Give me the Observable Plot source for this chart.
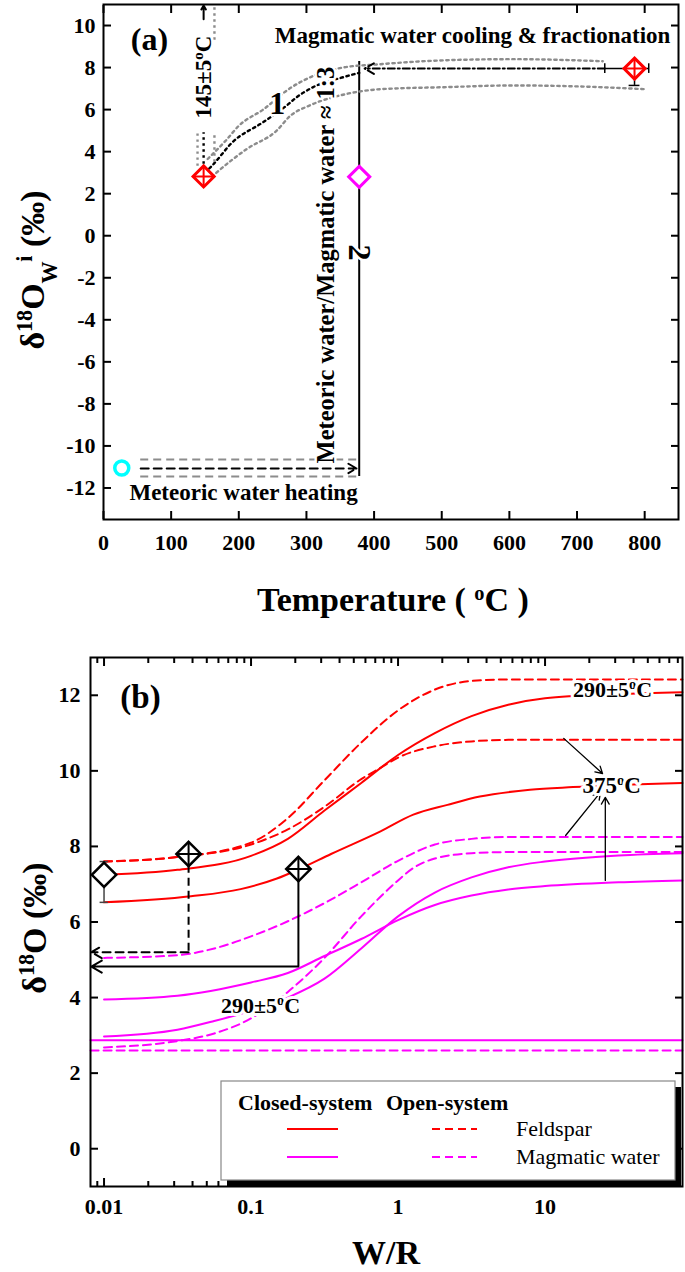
<!DOCTYPE html>
<html><head><meta charset="utf-8">
<script src="https://cdn.jsdelivr.net/npm/d3@7"></script>
<script src="https://cdn.jsdelivr.net/npm/@observablehq/plot@0.6"></script>
<style>
html,body{margin:0;padding:0;background:#fff;}
#fig{width:685px;height:1272px;overflow:hidden;}
#fig svg{display:block;}
</style></head>
<body><div id="fig"></div>
<script>
const FONT = "'Liberation Serif','Times New Roman',Times,serif";
const RED = "#ff0000", MAG = "#ff00ff", CYAN = "#00ffff", GRAY = "#8c8c8c";

// ================= Panel (a) data =================
const tempTicks = [0,100,200,300,400,500,600,700,800];
const deltaWTicks = [-12,-10,-8,-6,-4,-2,0,2,4,6,8,10];
const meteoricWater = [{T:27, d:-11.05}];
const mixedWater = [{T:378, d:2.8}];
const magmaticPoints = [{T:148, d:2.82}, {T:785, d:7.95}];
const magErrX = [{T1:741, T2:806, d:7.95}];
const magErrY = [{T:785, d1:7.15, d2:7.95}];
const magCapsX = [{T:741, d1:7.72, d2:8.18}, {T:806, d1:7.72, d2:8.18}];
const magCapsY = [{T1:777, T2:793, d:7.15}];
const upperGray = [[154,3.65],[180,4.5],[201,5.26],[236,6.0],[275,7.0],[310,7.6],[354,8.0],[409,8.16],[508,8.35],[606,8.4],[738,8.3]];
const middleBlack = [[150,3.0],[161,3.35],[191,4.46],[236,5.4],[271,6.2],[286,6.6],[310,7.07],[354,7.54],[378,7.75]];
const lowerGray = [[160,2.8],[167,3.0],[212,4.13],[256,5.0],[276,5.7],[305,6.2],[360,6.75],[409,6.97],[508,7.07],[606,7.15],[705,7.1],[801,6.97]];
const band145 = [
  {T:139, d1:3.3, d2:4.9, c:GRAY},
  {T:148, d1:3.4, d2:4.9, c:"black"},
  {T:164, d1:3.5, d2:4.9, c:GRAY},
  {T:164, d1:9.3, d2:10.9, c:GRAY}
];
const band145Arrow = [{T:148, d1:10.3, d2:10.95}];
const heatGray = [{T1:55, T2:378, d:-10.65}, {T1:55, T2:378, d:-11.45}];
const heatBlack = [{T1:55, T2:374, d:-11.07}];
const mixLine = [{T:378, d1:-11.45, d2:8.29}];
const coolLine = [{T1:741, T2:386, d:7.95}];
const labelsA = [
  {T:68, d:9.3, s:"(a)", size:32, rot:0},
  {T:257, d:6.29, s:"1", size:32, rot:0},
  {T:378, d:-0.8, s:"2", size:32, rot:90},
  {T:329, d:-1.4, s:"Meteoric water/Magmatic water \u2248 1:3", size:24.5, rot:-90},
  {T:148, d:7.55, s:"145\u00b15\u00b0C", size:23, rot:-90},
  {T:207, d:-12.2, s:"Meteoric water heating", size:23, rot:0}
];
const labelsAEnd = [{T:838, d:9.53, s:"Magmatic water cooling & fractionation", size:23}];

// ================= Panel (b) data =================
const wrTicks = [0.01, 0.1, 1, 10];
const wrMinor = [0.009,0.02,0.03,0.04,0.05,0.06,0.07,0.08,0.09,0.2,0.3,0.4,0.5,0.6,0.7,0.8,0.9,2,3,4,5,6,7,8,9,20,30,40,50,60,70,80];
const d18Ticks = [0,2,4,6,8,10,12];
const feldOpen290 = [[0.01,7.6],[0.0316,7.72],[0.1,8.1],[0.178,8.75],[0.316,9.75],[0.562,10.75],[1,11.6],[1.78,12.15],[3.16,12.38],[5.62,12.42],[86,12.42]];
const feldClosed290 = [[0.01,7.25],[0.0316,7.38],[0.1,7.75],[0.178,8.2],[0.316,8.95],[0.562,9.68],[1,10.42],[1.78,11.0],[3.16,11.45],[5.62,11.75],[10,11.92],[31.6,12.03],[86,12.08]];
const feldOpen375 = [[0.01,7.6],[0.0316,7.72],[0.1,8.05],[0.178,8.45],[0.316,9.05],[0.562,9.78],[0.76,10.08],[1,10.35],[1.78,10.65],[3.16,10.78],[5.62,10.82],[86,10.82]];
const feldClosed375 = [[0.01,6.52],[0.039,6.68],[0.085,6.87],[0.15,7.15],[0.21,7.39],[0.35,7.8],[0.76,8.4],[1.27,8.84],[2.17,9.1],[3.6,9.32],[7.9,9.5],[15.5,9.57],[86,9.68]];
const magOpenA = [[0.01,5.05],[0.0316,5.12],[0.0562,5.3],[0.1,5.62],[0.178,6.02],[0.316,6.5],[0.562,7.05],[1,7.62],[1.78,8.05],[3.16,8.2],[5.62,8.25],[86,8.25]];
const magOpenB = [[0.01,2.68],[0.0316,2.85],[0.0562,3.05],[0.1,3.45],[0.178,4.15],[0.316,5.05],[0.562,6.15],[1,7.1],[1.26,7.42],[1.78,7.68],[3.16,7.82],[5.62,7.85],[86,7.85]];
const magClosedA = [[0.01,2.97],[0.0316,3.15],[0.0562,3.38],[0.1,3.65],[0.178,4.0],[0.316,4.5],[0.562,5.3],[1,6.15],[1.78,6.78],[3.16,7.18],[5.62,7.45],[10,7.6],[31.6,7.76],[86,7.82]];
const magClosedB = [[0.01,3.95],[0.0316,4.05],[0.1,4.4],[0.178,4.65],[0.316,5.1],[0.562,5.55],[1,6.05],[1.78,6.45],[3.16,6.7],[5.62,6.86],[10,6.95],[31.6,7.05],[86,7.1]];
const magFlatSolid = [[0.0081,2.87],[86,2.87]];
const magFlatDash = [[0.0081,2.6],[86,2.6]];
const samples = [{wr:0.01, d:7.25, cross:false},{wr:0.0376, d:7.8, cross:true},{wr:0.21, d:7.4, cross:true}];
const sampleErr = [{wr:0.01, d1:6.52, d2:7.6}];
const sampleCaps = [{w1:0.0094, w2:0.0107, d:6.52},{w1:0.0094, w2:0.0107, d:7.6}];
const projDashV = [{wr:0.0376, d1:7.5, d2:5.2}];
const projDashH = [{w1:0.0376, w2:0.0082, d:5.2}];
const projSolidV = [{wr:0.21, d1:7.1, d2:4.82}];
const projSolidH = [{w1:0.21, w2:0.0082, d:4.82}];
const arrows375 = [
  {w1:13.4, d1:10.86, w2:24.6, d2:9.93},
  {w1:13.8, d1:8.29, w2:23.8, d2:9.43},
  {w1:25.7, d1:7.1, w2:25.7, d2:9.3}
];
const labelsB = [
  {wr:0.0177, d:11.94, s:"(b)", size:33},
  {wr:28.8, d:12.15, s:"290\u00b15\u00b0C", size:22},
  {wr:28.4, d:9.61, s:"375\u00b0C", size:23},
  {wr:0.116, d:3.79, s:"290\u00b15\u00b0C", size:22}
];
const legendRows = [{label:"Feldspar", color:RED}, {label:"Magmatic water", color:MAG}];

// ================= helpers =================
const X = d => d[0], Y = d => d[1];
function supify(svg) {
  d3.select(svg).selectAll("text").each(function() {
    const t = this.textContent;
    if (!t.includes("\u00b0")) return;
    const [a, b] = t.split("\u00b0");
    const s = d3.select(this);
    s.text(null);
    s.append("tspan").text(a);
    s.append("tspan").attr("baseline-shift","super").attr("font-size","65%").text("o");
    s.append("tspan").text(b);
  });
}
const tickTxt = {fontSize:22, fontWeight:"bold", label:null, tickSize:0};

// ================= Panel (a) =================
const pa = Plot.plot({
  width:685, height:640,
  marginTop:4, marginBottom:121, marginLeft:103, marginRight:7,
  style:{fontFamily:FONT, background:"white", color:"black"},
  x:{domain:[0,850]},
  y:{domain:[-13.5,11]},
  marks:[
    Plot.axisX(tempTicks, {...tickTxt, anchor:"bottom", tickPadding:15, tickFormat:d=>String(d)}),
    Plot.axisY(deltaWTicks, {...tickTxt, anchor:"left", tickPadding:8, tickFormat:d=>String(d)}),
    Plot.axisX(tempTicks, {anchor:"bottom", tickSize:-8, fill:"none", strokeWidth:2, label:null}),
    Plot.axisX(tempTicks, {anchor:"top", tickSize:-8, fill:"none", strokeWidth:2, label:null}),
    Plot.axisY(deltaWTicks, {anchor:"left", tickSize:-8, fill:"none", strokeWidth:2, label:null}),
    Plot.axisY(deltaWTicks, {anchor:"right", tickSize:-8, fill:"none", strokeWidth:2, label:null}),
    Plot.ruleY(heatGray, {y:"d", x1:"T1", x2:"T2", stroke:GRAY, strokeWidth:2, strokeDasharray:"8 5"}),
    Plot.arrow(heatBlack, {x1:"T1", x2:"T2", y1:"d", y2:"d", stroke:"black", strokeWidth:2, strokeDasharray:"8 5", headLength:7}),
    Plot.ruleX(mixLine, {x:"T", y1:"d1", y2:"d2", stroke:"black", strokeWidth:2}),
    Plot.line(upperGray, {x:X, y:Y, stroke:GRAY, strokeWidth:2.4, strokeDasharray:"2.4 3.6", curve:"monotone-x"}),
    Plot.line(lowerGray, {x:X, y:Y, stroke:GRAY, strokeWidth:2.4, strokeDasharray:"2.4 3.6", curve:"monotone-x"}),
    Plot.line(middleBlack, {x:X, y:Y, stroke:"black", strokeWidth:2.4, strokeDasharray:"2.4 3.6", curve:"monotone-x"}),
    Plot.arrow(coolLine, {x1:"T1", x2:"T2", y1:"d", y2:"d", stroke:"black", strokeWidth:2, strokeDasharray:"7 3 2 3", headLength:8}),
    Plot.ruleX(band145, {x:"T", y1:"d1", y2:"d2", stroke:"c", strokeWidth:2.4, strokeDasharray:"2.4 3.6"}),
    Plot.arrow(band145Arrow, {x1:"T", x2:"T", y1:"d1", y2:"d2", stroke:"black", strokeWidth:2, headLength:7}),
    Plot.ruleY(magErrX, {y:"d", x1:"T1", x2:"T2", stroke:"black", strokeWidth:1.5}),
    Plot.ruleX(magErrY, {x:"T", y1:"d1", y2:"d2", stroke:"black", strokeWidth:1.5}),
    Plot.ruleX(magCapsX, {x:"T", y1:"d1", y2:"d2", stroke:"black", strokeWidth:1.5}),
    Plot.ruleY(magCapsY, {y:"d", x1:"T1", x2:"T2", stroke:"black", strokeWidth:1.5}),
    Plot.dot(meteoricWater, {x:"T", y:"d", r:7, stroke:CYAN, strokeWidth:3.5, fill:"white"}),
    Plot.dot(mixedWater, {x:"T", y:"d", symbol:"diamond2", r:9.5, stroke:MAG, strokeWidth:3, fill:"white"}),
    Plot.dot(magmaticPoints, {x:"T", y:"d", symbol:"diamond2", r:9.5, stroke:RED, strokeWidth:3, fill:"white"}),
    Plot.dot(magmaticPoints, {x:"T", y:"d", symbol:"plus", r:6.5, stroke:RED, strokeWidth:2}),
    Plot.text(labelsA, {x:"T", y:"d", text:"s", fontSize:"size", rotate:"rot", fontWeight:"bold", fill:"black", stroke:"white", strokeWidth:5}),
    Plot.text(labelsAEnd, {x:"T", y:"d", text:"s", fontSize:"size", textAnchor:"end", fontWeight:"bold", fill:"black"}),
    Plot.frame({stroke:"black", strokeWidth:2})
  ]
});

// ================= Panel (b) =================
const pb = Plot.plot({
  width:685, height:632,
  marginTop:17, marginBottom:86, marginLeft:90, marginRight:3,
  style:{fontFamily:FONT, background:"white", color:"black"},
  x:{type:"log", domain:[0.00809, 86.1]},
  y:{domain:[-1,13]},
  marks:[
    Plot.axisX(wrTicks, {...tickTxt, anchor:"bottom", tickPadding:12, tickFormat:d=>String(d)}),
    Plot.axisY(d18Ticks, {...tickTxt, anchor:"left", tickPadding:10, tickFormat:d=>String(d)}),
    Plot.axisX(wrTicks, {anchor:"bottom", tickSize:-8, fill:"none", strokeWidth:2, label:null}),
    Plot.axisX(wrTicks, {anchor:"top", tickSize:-8, fill:"none", strokeWidth:2, label:null}),
    Plot.axisX(wrMinor, {anchor:"bottom", tickSize:-5, fill:"none", strokeWidth:2, label:null}),
    Plot.axisX(wrMinor, {anchor:"top", tickSize:-5, fill:"none", strokeWidth:2, label:null}),
    Plot.axisY(d18Ticks, {anchor:"left", tickSize:-8, fill:"none", strokeWidth:2, label:null}),
    Plot.axisY(d18Ticks, {anchor:"right", tickSize:-8, fill:"none", strokeWidth:2, label:null}),
    Plot.line(magFlatSolid, {x:X, y:Y, stroke:MAG, strokeWidth:2}),
    Plot.line(magFlatDash, {x:X, y:Y, stroke:MAG, strokeWidth:2, strokeDasharray:"8 5"}),
    Plot.line(magOpenA, {x:X, y:Y, stroke:MAG, strokeWidth:2, strokeDasharray:"8 5", curve:"monotone-x"}),
    Plot.line(magOpenB, {x:X, y:Y, stroke:MAG, strokeWidth:2, strokeDasharray:"8 5", curve:"monotone-x"}),
    Plot.line(magClosedA, {x:X, y:Y, stroke:MAG, strokeWidth:2, curve:"monotone-x"}),
    Plot.line(magClosedB, {x:X, y:Y, stroke:MAG, strokeWidth:2, curve:"monotone-x"}),
    Plot.line(feldOpen290, {x:X, y:Y, stroke:RED, strokeWidth:2, strokeDasharray:"8 5", curve:"monotone-x"}),
    Plot.line(feldOpen375, {x:X, y:Y, stroke:RED, strokeWidth:2, strokeDasharray:"8 5", curve:"monotone-x"}),
    Plot.line(feldClosed290, {x:X, y:Y, stroke:RED, strokeWidth:2, curve:"monotone-x"}),
    Plot.line(feldClosed375, {x:X, y:Y, stroke:RED, strokeWidth:2, curve:"monotone-x"}),
    Plot.ruleX(projDashV, {x:"wr", y1:"d1", y2:"d2", stroke:"black", strokeWidth:2, strokeDasharray:"8 5"}),
    Plot.arrow(projDashH, {x1:"w1", x2:"w2", y1:"d", y2:"d", stroke:"black", strokeWidth:2, strokeDasharray:"8 5", headLength:9}),
    Plot.ruleX(projSolidV, {x:"wr", y1:"d1", y2:"d2", stroke:"black", strokeWidth:2}),
    Plot.arrow(projSolidH, {x1:"w1", x2:"w2", y1:"d", y2:"d", stroke:"black", strokeWidth:2, headLength:9}),
    Plot.arrow(arrows375, {x1:"w1", x2:"w2", y1:"d1", y2:"d2", stroke:"black", strokeWidth:1.3, headLength:9}),
    Plot.ruleX(sampleErr, {x:"wr", y1:"d1", y2:"d2", stroke:"#444", strokeWidth:1.5}),
    Plot.ruleY(sampleCaps, {y:"d", x1:"w1", x2:"w2", stroke:"#444", strokeWidth:1.5}),
    Plot.dot(samples, {x:"wr", y:"d", symbol:"diamond2", r:11, stroke:"black", strokeWidth:2.5, fill:"white"}),
    Plot.dot(samples.filter(d => d.cross), {x:"wr", y:"d", symbol:"plus", r:8, stroke:"black", strokeWidth:2}),
    Plot.text(labelsB, {x:"wr", y:"d", text:"s", fontSize:"size", fontWeight:"bold", fill:"black", stroke:"white", strokeWidth:6}),
    Plot.frame({stroke:"black", strokeWidth:2})
  ]
});

supify(pa); supify(pb);

// ----- titles panel (a)
const sa = d3.select(pa);
sa.append("text").attr("x", 393).attr("y", 611).attr("text-anchor","middle")
  .attr("font-family",FONT).attr("font-weight","bold").attr("font-size",34)
  .call(t => {
    t.append("tspan").text("Temperature ( ");
    t.append("tspan").attr("baseline-shift","super").attr("font-size","60%").text("o");
    t.append("tspan").text("C )");
  });
sa.append("text").attr("transform","translate(44,270) rotate(-90)").attr("text-anchor","middle")
  .attr("font-family",FONT).attr("font-weight","bold").attr("font-size",34)
  .call(t => {
    t.append("tspan").text("\u03b4");
    t.append("tspan").attr("baseline-shift","super").attr("font-size","65%").text("18");
    t.append("tspan").text("O");
    t.append("tspan").attr("baseline-shift","sub").attr("font-size","65%").text("W");
    t.append("tspan").attr("baseline-shift","super").attr("font-size","65%").text("i");
    t.append("tspan").text(" (\u2030)");
  });

// ----- titles and legend panel (b)
const sb = d3.select(pb);
sb.append("text").attr("x", 386).attr("y", 624).attr("text-anchor","middle")
  .attr("font-family",FONT).attr("font-weight","bold").attr("font-size",34).text("W/R");
sb.append("text").attr("transform","translate(46,288) rotate(-90)").attr("text-anchor","middle")
  .attr("font-family",FONT).attr("font-weight","bold").attr("font-size",34)
  .call(t => {
    t.append("tspan").text("\u03b4");
    t.append("tspan").attr("baseline-shift","super").attr("font-size","65%").text("18");
    t.append("tspan").text("O (\u2030)");
  });
const lg = sb.append("g").attr("font-family", FONT).attr("text-anchor","start");
lg.append("rect").attr("x",227).attr("y",447).attr("width",454).attr("height",99).attr("fill","black");
lg.append("rect").attr("x",221).attr("y",441).attr("width",454).attr("height",99).attr("fill","white").attr("stroke","#888").attr("stroke-width",1.2);
lg.append("text").attr("x",238).attr("y",470).attr("font-size",22).attr("font-weight","bold").text("Closed-system");
lg.append("text").attr("x",386).attr("y",470).attr("font-size",22).attr("font-weight","bold").text("Open-system");
legendRows.forEach((r, i) => {
  const y = 489 + i * 28;
  lg.append("line").attr("x1",287).attr("x2",338).attr("y1",y).attr("y2",y).attr("stroke",r.color).attr("stroke-width",2.2);
  lg.append("line").attr("x1",432).attr("x2",477).attr("y1",y).attr("y2",y).attr("stroke",r.color).attr("stroke-width",2.2).attr("stroke-dasharray","8 5");
  lg.append("text").attr("x",516).attr("y",y+7).attr("font-size",22).text(r.label);
});

const fig = document.getElementById("fig");
fig.appendChild(pa);
fig.appendChild(pb);
</script>
</body></html>
